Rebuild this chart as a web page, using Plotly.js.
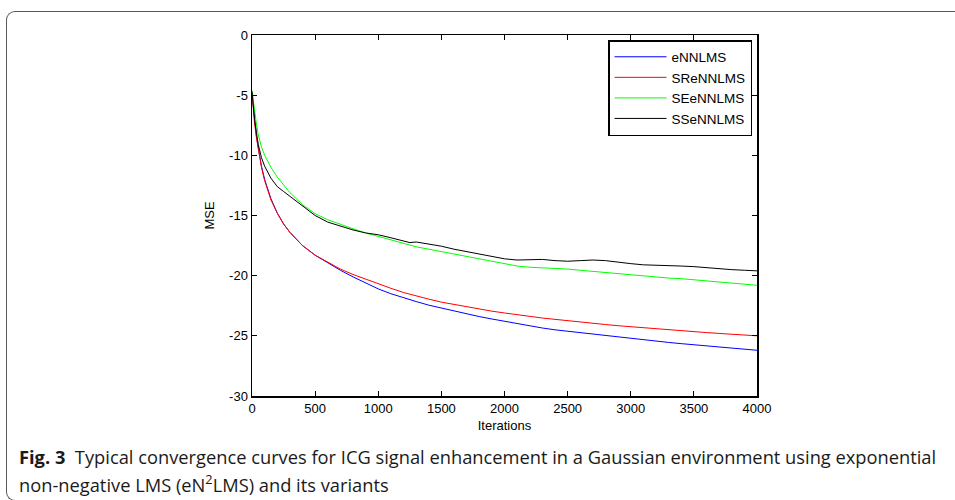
<!DOCTYPE html>
<html>
<head>
<meta charset="utf-8">
<script src="https://cdn.plot.ly/plotly-3.0.1.min.js"></script>
<style>
html, body { margin: 0; padding: 0; background: #ffffff; width: 955px; height: 500px; overflow: hidden; }
#frame { position: absolute; left: 6px; top: 11px; width: 980px; height: 490px;
  border-top: 1px solid #5a5a5a; border-left: 1px solid #5a5a5a; border-bottom: 1px solid #5a5a5a;
  border-top-left-radius: 9px; border-bottom-left-radius: 9px; box-sizing: border-box; }
#chart { position: absolute; left: 0; top: 0; width: 955px; height: 500px; }
</style>
</head>
<body>
<div id="frame"></div>
<div id="chart"></div>
<script>
// Iteration grid (x values)
const iterations = [0, 10, 20, 35, 50, 75, 100, 150, 200, 250, 300, 400, 500, 600, 700, 800, 900,
  1000, 1100, 1200, 1250, 1300, 1400, 1500, 1600, 1700, 1800, 1900, 2000, 2100, 2200, 2300, 2400,
  2500, 2600, 2700, 2800, 2900, 3000, 3100, 3200, 3300, 3400, 3500, 3600, 3700, 3800, 3900, 4000];

// MSE values (dB)
const eNNLMS = [-4.8, -6.0, -7.2, -8.4, -9.4, -10.9, -12.0, -13.6, -14.8, -15.7, -16.4, -17.5, -18.3, -18.95, -19.55, -20.1, -20.6,
  -21.1, -21.5, -21.85, -22.0, -22.15, -22.45, -22.7, -22.95, -23.2, -23.4, -23.6, -23.8, -24.0, -24.2, -24.35, -24.5,
  -24.62, -24.75, -24.88, -25.0, -25.12, -25.23, -25.34, -25.45, -25.55, -25.65, -25.74, -25.83, -25.92, -26.01, -26.1, -26.2];

const SReNNLMS = [-4.8, -6.1, -7.3, -8.5, -9.5, -11.0, -12.1, -13.7, -14.8, -15.7, -16.4, -17.5, -18.3, -18.9, -19.45, -19.9, -20.3,
  -20.7, -21.05, -21.4, -21.55, -21.7, -21.95, -22.2, -22.4, -22.6, -22.78, -22.95, -23.1, -23.25, -23.4, -23.52, -23.63,
  -23.75, -23.86, -23.96, -24.06, -24.16, -24.25, -24.33, -24.42, -24.5, -24.58, -24.66, -24.73, -24.8, -24.87, -24.94, -25.0];

const SEeNNLMS = [-4.6, -5.5, -6.4, -7.4, -8.3, -9.3, -10.0, -11.0, -11.8, -12.5, -13.1, -14.1, -14.85, -15.35, -15.75, -16.1, -16.45,
  -16.75, -17.0, -17.3, -17.5, -17.6, -17.8, -18.0, -18.25, -18.45, -18.65, -18.85, -19.05, -19.2, -19.3, -19.35, -19.35,
  -19.45, -19.55, -19.65, -19.75, -19.85, -19.95, -20.05, -20.15, -20.2, -20.25, -20.35, -20.45, -20.55, -20.65, -20.72, -20.8];

const SSeNNLMS = [-4.7, -5.9, -7.0, -8.1, -9.1, -10.2, -10.9, -11.9, -12.6, -13.0, -13.4, -14.2, -15.0, -15.55, -15.9, -16.2, -16.45,
  -16.6, -16.85, -17.1, -17.25, -17.2, -17.35, -17.55, -17.8, -18.0, -18.2, -18.4, -18.6, -18.7, -18.7, -18.65, -18.75,
  -18.8, -18.75, -18.7, -18.75, -18.9, -19.0, -19.1, -19.12, -19.15, -19.2, -19.25, -19.35, -19.45, -19.5, -19.55, -19.6];

const seriesNames = ['eNNLMS', 'SReNNLMS', 'SEeNNLMS', 'SSeNNLMS'];
const seriesColors = ['#0000ff', '#ff0000', '#00ff00', '#000000'];
const seriesData = [eNNLMS, SReNNLMS, SEeNNLMS, SSeNNLMS];

const xTicks = [0, 500, 1000, 1500, 2000, 2500, 3000, 3500, 4000];
const yTicks = [0, -5, -10, -15, -20, -25, -30];

const traces = seriesData.map((ys, i) => ({
  x: iterations, y: ys, type: 'scatter', mode: 'lines', name: seriesNames[i],
  line: { color: seriesColors[i], width: 1 }
}));

const W = 955, H = 500, ML = 252, MR = 198, MT = 35, MB = 104;
const pw = W - ML - MR, ph = H - MT - MB;
const px = (p) => (p - ML) / pw;
const py = (p) => (H - MB - p) / ph;

const axisFont = { family: 'Liberation Sans, Arial, sans-serif', size: 13, color: '#000' };

const layout = {
  width: W, height: H,
  margin: { l: ML, r: MR, t: MT, b: MB, pad: 0 },
  paper_bgcolor: 'rgba(0,0,0,0)', plot_bgcolor: '#ffffff',
  showlegend: true,
  legend: {
    x: px(752), y: py(40), xanchor: 'right', yanchor: 'top',
    bgcolor: '#ffffff', bordercolor: '#000', borderwidth: 1.5,
    font: { family: 'Liberation Sans, Arial, sans-serif', size: 13.5, color: '#000' },
    itemwidth: 52, tracegroupgap: 0
  },
  xaxis: {
    range: [0, 4000], tickvals: xTicks, ticktext: xTicks.map(String),
    ticks: 'inside', ticklen: 5, tickcolor: '#000', tickwidth: 1,
    showline: true, linecolor: '#000', linewidth: 1.5, mirror: 'ticks',
    showgrid: false, zeroline: false, tickfont: axisFont,
    title: { text: 'Iterations', font: axisFont, standoff: 6 }
  },
  yaxis: {
    range: [-30, 0], tickvals: yTicks, ticktext: yTicks.map(String),
    ticks: 'inside', ticklen: 5, tickcolor: '#000', tickwidth: 1,
    showline: true, linecolor: '#000', linewidth: 1.5, mirror: 'ticks',
    showgrid: false, zeroline: false, tickfont: axisFont,
    title: { text: 'MSE', font: axisFont, standoff: 11 }
  },
  annotations: [
    { xref: 'paper', yref: 'paper', x: px(17), y: py(456), xanchor: 'left', yanchor: 'middle',
      showarrow: false, align: 'left',
      text: '<b>Fig. 3</b>  Typical convergence curves for ICG signal enhancement in a Gaussian environment using exponential',
      font: { family: 'Open Sans, sans-serif', size: 18.3, color: '#1a1a1a' } },
    { xref: 'paper', yref: 'paper', x: px(17), y: py(484), xanchor: 'left', yanchor: 'middle',
      showarrow: false, align: 'left',
      text: 'non-negative LMS (eN<sup>2</sup>LMS) and its variants',
      font: { family: 'Open Sans, sans-serif', size: 18.3, color: '#1a1a1a' } }
  ]
};

Plotly.newPlot('chart', traces, layout, { staticPlot: true, displayModeBar: false });
</script>
</body>
</html>
